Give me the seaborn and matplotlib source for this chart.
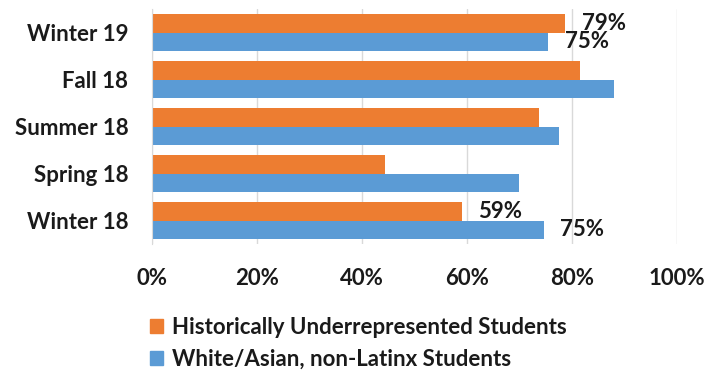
import pandas as pd
import matplotlib
matplotlib.use('Agg')
import matplotlib.pyplot as plt
import matplotlib.ticker as mticker
import seaborn as sns

terms = ['Winter 19', 'Fall 18', 'Summer 18', 'Spring 18', 'Winter 18']
urm = [78.7, 81.5, 73.7, 44.3, 59]
white_asian = [75.4, 88, 77.6, 69.9, 74.6]
groups = ['Historically Underrepresented Students', 'White/Asian, non-Latinx Students']
colors = ['#ED7D31', '#5B9BD5']

# only a few bars get a value label in the original
labels = {('Winter 19', 0): '79%', ('Winter 19', 1): '75%',
          ('Winter 18', 0): '59%', ('Winter 18', 1): '75%'}

df = pd.DataFrame({
    'term': terms * 2,
    'value': urm + white_asian,
    'group': [groups[0]] * len(terms) + [groups[1]] * len(terms),
})

sns.set_style('white')
plt.rcParams['font.family'] = ['Lato', 'DejaVu Sans']
plt.rcParams['font.weight'] = 'bold'
txt_color = '#1a1a1a'
fs = 16

fig = plt.figure(figsize=(7.06, 3.74), dpi=100)
ax = fig.add_axes([152 / 706, 1 - 244 / 374, 525 / 706, 235 / 374])

sns.barplot(data=df, y='term', x='value', hue='group', order=terms,
            hue_order=groups, palette=colors, orient='h', width=0.8,
            saturation=1, legend=False, linewidth=0, ax=ax)

ax.set_xlim(0, 100)
ax.xaxis.set_major_locator(mticker.MultipleLocator(20))
ax.xaxis.set_major_formatter(mticker.FuncFormatter(lambda x, p: '%d%%' % x))
ax.grid(axis='x', color='#d9d9d9', linewidth=1)
ax.set_axisbelow(True)
for s in ['top', 'right', 'bottom']:
    ax.spines[s].set_visible(False)
ax.spines['left'].set_color('#d9d9d9')
ax.tick_params(axis='y', length=0, pad=17, labelsize=fs, labelcolor=txt_color)
ax.tick_params(axis='x', length=0, pad=17, labelsize=fs, labelcolor=txt_color)
ax.set_xlabel('')
ax.set_ylabel('')

for gi, cont in enumerate(ax.containers):
    for ti, bar in enumerate(cont):
        key = (terms[ti], gi)
        if key in labels:
            ax.annotate(labels[key], (bar.get_width(), bar.get_y() + bar.get_height() / 2),
                        xytext=(12, 0), textcoords='offset points', va='center',
                        fontsize=fs, fontweight='bold', color=txt_color)

handles = [plt.Rectangle((0, 0), 1, 1, color=c) for c in colors]
leg = fig.legend(handles, groups, loc='upper left', bbox_to_anchor=(150 / 706, 1 - 317 / 374),
                 bbox_transform=fig.transFigure, frameon=False, fontsize=fs,
                 handlelength=0.6, handleheight=0.6, handletextpad=0.4, labelspacing=0.5,
                 borderaxespad=0, borderpad=0)
for t in leg.get_texts():
    t.set_color(txt_color)

plt.savefig('out.png', dpi=100)
